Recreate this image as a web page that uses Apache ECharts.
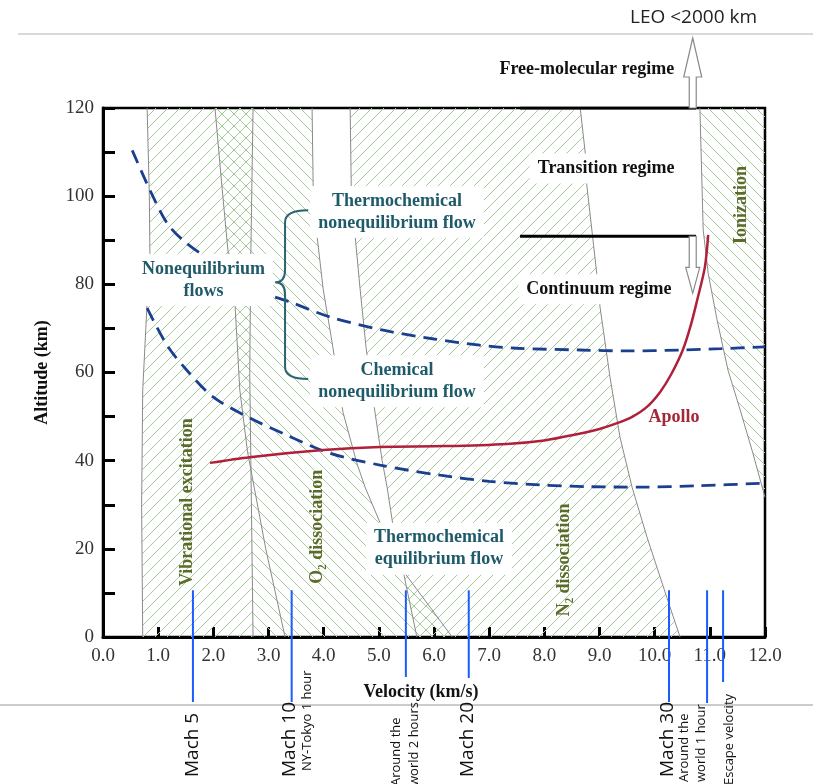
<!DOCTYPE html>
<html><head><meta charset="utf-8">
<script src="https://cdn.jsdelivr.net/npm/echarts@6/dist/echarts.min.js"></script>
<style>html,body{margin:0;padding:0;background:#fff}#c{width:813px;height:784px}</style>
</head><body><div id="c"></div>
<script>
// ---------------- DATA ----------------
const velocityRange = [0, 12];
const altitudeRange = [0, 120];

// region boundary curves [velocity km/s, altitude km]
const vibrationalLeft  = [[0.80,120],[0.84,100],[0.85,87],[0.80,76],[0.72,56],[0.70,30],[0.72,0]];
const vibrationalRight = [[2.72,120],[2.68,87],[2.66,60],[2.68,40],[2.72,0]];
const o2Left  = [[2.03,120],[2.15,103],[2.27,87],[2.39,76],[2.48,56],[2.62,42],[2.68,38],[2.72,0]];
const crossLine = [[2.03,120],[2.15,103],[2.27,87],[2.39,76],[2.48,56],[2.62,42],[2.95,20],[3.30,0]];
const o2Right = [[3.79,120],[3.81,102],[3.88,91],[3.99,79],[4.17,65.5],[4.35,51],[4.60,39.5],[4.75,34],[5.02,26],[5.44,15],[6.33,0]];
const n2Left  = [[4.48,120],[4.50,102],[4.57,91],[4.66,79],[4.77,65.5],[4.93,51],[5.06,40],[5.15,34],[5.26,25],[5.44,15],[5.69,0]];
const n2Right = [[8.65,120],[8.74,110],[8.77,102.5],[8.95,82.5],[9.01,74.8],[9.19,59],[9.37,45.4],[9.59,34],[9.86,22.7],[10.22,9],[10.46,0]];
const ionLeft = [[10.82,120],[10.88,92.3],[10.97,82.5],[11.13,72],[11.33,60.5],[11.55,51.5],[11.78,41.7],[12.0,31.7]];

// flow-boundary curves
const thermoNoneqA = [[0.53,110.4],[0.85,101.4],[1.16,93.9],[1.45,90.0],[1.81,86.6]];
const thermoNoneqB = [[3.12,77.1],[3.39,76.0],[4.11,72.6],[5.08,69.6],[6.0,67.6],[6.83,66.2],[7.5,65.5],[8.65,65.1],[9.5,64.9],[10.46,65.1],[11.2,65.4],[12.0,65.8]];
const chemNoneq = [[0.80,74.6],[1.16,66.2],[1.52,60.5],[2.0,54.4],[2.66,49.7],[3.33,45.8],[4.11,41.7],[5.02,39.0],[6.11,36.7],[7.0,35.3],[7.92,34.5],[8.8,34.1],[9.73,34.0],[10.8,34.3],[12.0,34.9]];
const apollo = [[1.94,39.5],[2.66,40.8],[3.99,42.4],[5.02,43.1],[6.2,43.3],[7.32,43.8],[8.0,44.6],[8.52,45.8],[9.0,47.2],[9.32,48.5],[9.6,50.0],[9.86,52.2],[10.1,55.6],[10.3,59.6],[10.51,65.1],[10.65,70.5],[10.77,76.4],[10.91,83.9],[10.97,91.2]];

// regime boundaries
const freeMolecularBoundary = [[7.56,120],[10.75,120]];
const continuumBoundary = [[7.56,90.9],[10.75,90.9]];

// milestones
const milestoneVelocity = [1.63, 3.42, 5.49, 6.63, 10.26, 10.95, 11.24];
const milestoneMain  = ['Mach 5','Mach 10','','Mach 20','Mach 30','',''];
const milestoneNotes = [[],['NY-Tokyo 1 hour'],['Around the','world 2 hours'],[],[],['Around the','world 1 hour'],['Escape velocity']];
const milestoneTopAltitude = 10.6;

// annotation texts
const annotationText = ['Nonequilibrium\nflows','Thermochemical\nnonequilibrium flow','Chemical\nnonequilibrium flow','Thermochemical\nequilibrium flow','Transition regime','Continuum regime','Free-molecular regime','Apollo','Vibrational excitation','O\u2082 dissociation','N\u2082 dissociation','Ionization'];
const annotationAt   = [[1.82,81.0],[5.33,96.4],[5.33,58.0],[6.09,20.0],[9.12,106.3],[8.99,78.9],[8.77,128.8],[10.35,49.9],[1.52,30.6],[3.88,25.0],[8.37,17.5],[11.58,98.0]];
const annotationKind = ['flow','flow','flow','flow','regime','regime','regimeTop','apollo','process','process','process','process'];

// ---------------- STYLE / LAYOUT ----------------
const SERIF = '"Liberation Serif", "DejaVu Serif", serif';
const SANS = '"Open Sans", "Noto Sans", sans-serif';
const kindStyle = {
  flow:     {font:'bold 18px '+SERIF, fill:'#1e5a6a', bg:'#fff', rot:0},
  regime:   {font:'bold 18px '+SERIF, fill:'#111', bg:'#fff', rot:0},
  regimeTop:{font:'bold 18px '+SERIF, fill:'#111', bg:null, rot:0},
  apollo:   {font:'bold 18px '+SERIF, fill:'#a3283a', bg:null, rot:0},
  process:  {font:'bold 18px '+SERIF, fill:'#5b6b2a', bg:null, rot:Math.PI/2}
};
const hatchColor = '#a3cc98';
const hatchStep = 12;

// clip 45° hatch lines to a pixel polygon
function hatchLines(poly, dir){
  const s = dir === '/' ? 1 : -1;   // '/' : x + y = c ; '\' : x - y = c
  const vals = poly.map(p => p[0] + s*p[1]);
  const cmin = Math.min.apply(null, vals), cmax = Math.max.apply(null, vals);
  const out = [];
  for (let c = Math.ceil(cmin/hatchStep)*hatchStep; c <= cmax; c += hatchStep) {
    const xs = [];
    for (let i = 0; i < poly.length; i++) {
      const a = poly[i], b = poly[(i+1)%poly.length];
      const fa = a[0] + s*a[1] - c, fb = b[0] + s*b[1] - c;
      if ((fa < 0) !== (fb < 0)) {
        const t = fa/(fa-fb);
        xs.push(a[0] + t*(b[0]-a[0]));
      }
    }
    xs.sort((u,v)=>u-v);
    for (let k = 0; k+1 < xs.length; k += 2) {
      const x1 = xs[k], x2 = xs[k+1];
      out.push({type:'line', shape:{x1:x1, y1:(c-x1)*s, x2:x2, y2:(c-x2)*s},
        style:{stroke:hatchColor, lineWidth:1}});
    }
  }
  return out;
}
const regions = [
  {pts: vibrationalLeft.concat(vibrationalRight.slice().reverse()), hatch:'/'},
  {pts: o2Left.concat(o2Right.slice().reverse()), hatch:'\\'},
  {pts: n2Left.concat(n2Right.slice().reverse()), hatch:'/'},
  {pts: ionLeft.concat([[12,120]]), hatch:'\\'}
];
const boundaryLines = [vibrationalLeft, vibrationalRight, crossLine, o2Right, n2Left, n2Right, ionLeft];

// milestone layout (pixels)
const msLineBottom = [702,702,677,678,702,703,682];
const msMainDx = [0,-2,0,-1,-1,0,0];
const msMainBottom = 777;
const msNoteDx = [[],[16],[-10,8],[],[],[-23,-6],[6]];
const msNoteBottom = [0,771,786,0,0,782,785];

// ---------------- SERIES ----------------
const series = [];
regions.forEach(r=>{
  series.push({type:'custom', silent:true, z:1, data:[[0,0]], animation:false,
    renderItem:(p,api)=>({type:'group', children: hatchLines(r.pts.map(q=>api.coord(q)), r.hatch)})});
});
boundaryLines.forEach(pts=>series.push({type:'line', data:pts, symbol:'none', silent:true, z:2,
  lineStyle:{color:'#8a8a8a', width:1}}));
[freeMolecularBoundary, continuumBoundary].forEach(pts=>series.push({type:'line', data:pts, symbol:'none', silent:true, z:3,
  lineStyle:{color:'#000', width:3}}));

// annotations
series.push({type:'custom', silent:true, z:4, animation:false,
  data: annotationAt.map((a,i)=>[a[0],a[1],i]),
  renderItem:(p,api)=>{
    const i = api.value(2), pt = api.coord([api.value(0), api.value(1)]);
    const ks = kindStyle[annotationKind[i]];
    const st = {text:annotationText[i], font:ks.font, fill:ks.fill, align:'center', verticalAlign:'middle', lineHeight:22};
    if (ks.bg) { st.backgroundColor = ks.bg; st.padding = [4,8]; }
    return {type:'text', x:pt[0], y:pt[1], rotation:ks.rot, style:st};
  }});

// dashed flow boundaries
[thermoNoneqA, thermoNoneqB, chemNoneq].forEach(pts=>series.push({type:'line', data:pts, symbol:'none', smooth:0.3, silent:true, z:5,
  lineStyle:{color:'#1b3f8f', width:2.8, type:[14,8]}}));
series.push({type:'line', data:apollo, symbol:'none', smooth:0.3, silent:true, z:5,
  lineStyle:{color:'#b0203a', width:2.5}});

// regime arrows (hollow)
series.push({type:'custom', silent:true, z:6, animation:false,
  data:[[freeMolecularBoundary[1][0]-0.06, 120, 1],[continuumBoundary[1][0]-0.06, 90.9, -1]],
  renderItem:(p,api)=>{
    const c = api.coord([api.value(0), api.value(1)]); const d = api.value(2);
    const x = c[0], y = c[1];
    let pts;
    if (d>0) pts = [[x-3.5,y],[x-3.5,y-31],[x-9,y-31],[x,y-70],[x+9,y-31],[x+3.5,y-31],[x+3.5,y]];
    else pts = [[x-3.5,y],[x-3.5,y+31],[x-7,y+31],[x,y+57],[x+7,y+31],[x+3.5,y+31],[x+3.5,y]];
    return {type:'polygon', shape:{points:pts}, style:{fill:'#fff', stroke:'#8a8a8a', lineWidth:1.2}};
  }});

// brace
series.push({type:'custom', silent:true, z:6, animation:false, data:[[3.30, 80.5]],
  renderItem:(p,api)=>{
    const top = api.coord([3.30, 96.8]), mid = api.coord([3.30, 80.5]), bot = api.coord([3.30, 58.5]);
    const tip = api.coord([3.12, 80.5])[0], end = api.coord([3.72, 80.5])[0];
    const xb = top[0], r = 12;
    const d = `M${end},${top[1]} Q${xb},${top[1]} ${xb},${top[1]+r} L${xb},${mid[1]-r} Q${xb},${mid[1]} ${tip},${mid[1]} Q${xb},${mid[1]} ${xb},${mid[1]+r} L${xb},${bot[1]-r} Q${xb},${bot[1]} ${end},${bot[1]}`;
    return {type:'path', shape:{pathData:d}, style:{fill:null, stroke:'#2a6470', lineWidth:2}};
  }});

// milestones
series.push({type:'custom', silent:true, z:7, animation:false,
  data: milestoneVelocity.map((v,i)=>[v, milestoneTopAltitude, i]),
  renderItem:(p,api)=>{
    const i = api.value(2); const c = api.coord([api.value(0), api.value(1)]);
    const x = c[0];
    const children = [{type:'line', shape:{x1:x, y1:c[1], x2:x, y2:msLineBottom[i]}, style:{stroke:'#1a5cff', lineWidth:2}}];
    if (milestoneMain[i]) children.push({type:'text', x:x+msMainDx[i], y:msMainBottom, rotation:Math.PI/2,
      style:{text:milestoneMain[i], font:'19px '+SANS, fill:'#111', align:'left', verticalAlign:'middle'}});
    milestoneNotes[i].forEach((t,j)=>children.push({type:'text', x:x+msNoteDx[i][j], y:msNoteBottom[i], rotation:Math.PI/2,
      style:{text:t, font:'13px '+SANS, fill:'#111', align:'left', verticalAlign:'middle'}}));
    return {type:'group', children};
  }});

const chart = echarts.init(document.getElementById('c'));
chart.setOption({
  animation:false,
  backgroundColor:'#fff',
  grid:{left:103, right:48, top:108, bottom:147, show:true, borderColor:'#000', borderWidth:2.5, backgroundColor:'transparent'},
  xAxis:{type:'value', min:velocityRange[0], max:velocityRange[1], interval:1,
    name:'Velocity (km/s)', nameLocation:'middle', nameGap:46,
    nameTextStyle:{fontFamily:SERIF, fontWeight:'bold', fontSize:18, color:'#111', padding:[0,26,0,0]},
    axisLine:{lineStyle:{color:'#000', width:3}},
    axisTick:{inside:true, length:10, lineStyle:{color:'#000', width:3}},
    axisLabel:{fontFamily:SERIF, fontSize:19, color:'#333', margin:10, formatter:v=>v.toFixed(1)},
    splitLine:{show:false}},
  yAxis:{type:'value', min:altitudeRange[0], max:altitudeRange[1], interval:10,
    name:'Altitude (km)', nameLocation:'middle', nameGap:52, nameRotate:90,
    nameTextStyle:{fontFamily:SERIF, fontWeight:'bold', fontSize:18, color:'#111'},
    axisLine:{lineStyle:{color:'#000', width:3}},
    axisTick:{inside:true, length:12, lineStyle:{color:'#000', width:3}},
    axisLabel:{fontFamily:SERIF, fontSize:19, color:'#333', margin:9, formatter:v=>(v%20===0?String(v):'')},
    splitLine:{show:false}},
  graphic:[
    {type:'line', shape:{x1:18, y1:34, x2:813, y2:34}, style:{stroke:'#cccccc', lineWidth:1.5}},
    {type:'line', shape:{x1:0, y1:705, x2:813, y2:705}, style:{stroke:'#bbbbbb', lineWidth:1.5}},
    {type:'text', x:757, y:18, style:{text:'LEO <2000 km', font:'19px '+SANS, fill:'#222', align:'right', verticalAlign:'middle'}}
  ],
  series
});
</script></body></html>
